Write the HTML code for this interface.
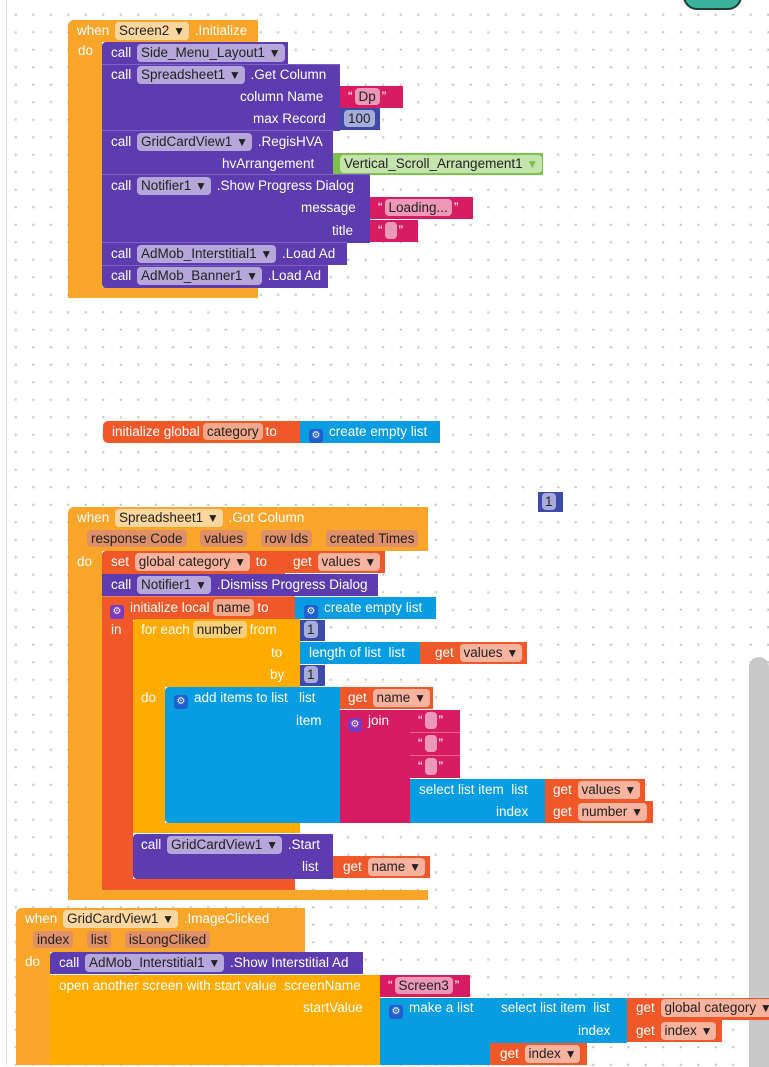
<!DOCTYPE html>
<html><head><meta charset="utf-8">
<style>
html,body{margin:0;padding:0}
body{width:769px;height:1065px;position:relative;overflow:hidden;background-color:#fff;
background-image:radial-gradient(circle,#c9c9c9 1px,transparent 1.4px);background-size:17.5px 17.5px;background-position:7px 6px;
font-family:"Liberation Sans","DejaVu Sans",sans-serif;}
.r{position:absolute}
.x{position:absolute;white-space:nowrap;color:#fff;font-size:13.5px;line-height:22px}
.f{display:inline-block;background:rgba(255,255,255,.55);color:#222;border-radius:4px;padding:0 4px;line-height:17px;margin:0 2px}
.q{display:inline-block;background:#df9068;color:#222;border-radius:4px;padding:0 4px;line-height:17px;margin:0 3px}
.g{display:inline-block;width:14px;height:14px;border-radius:3px;vertical-align:-2px;margin-right:6px;text-align:center;line-height:14px;font-size:10px;color:#fff}
.E{background:#f9a52a}.P{background:#5c3cae}.V{background:#f0582a}.T{background:#d81c62}.N{background:#3d4aa8}.L{background:#089ce0}.A{background:#ffab00}.G{background:#7cc24a}
.dw{font-size:12px}
</style></head><body>
<div class="r" style="left:6px;top:0;width:1px;height:1065px;background:#ddd"></div>
<div class="r" style="left:683px;top:-14px;width:55px;height:20px;background:#3bb39a;border:2px solid #1d3d36;border-radius:0 0 14px 14px"></div>
<div class="r" style="left:749px;top:657px;width:20px;height:410px;background:#c8c8c8;border-radius:10px 10px 0 0"></div>

<!-- Block 1 -->
<div class="r E" style="left:68px;top:20px;width:190px;height:22px;border-radius:6px 0 0 0"></div>
<div class="r E" style="left:68px;top:42px;width:34px;height:256px;border-radius:0 0 0 6px"></div>
<div class="r E" style="left:68px;top:287px;width:190px;height:11px"></div>
<div class="x" style="left:77px;top:20px">when <span class="f">Screen2 <span class="dw">▼</span></span> .Initialize</div>
<div class="x" style="left:78px;top:40px">do</div>
<div class="r P" style="left:102px;top:42px;width:186px;height:22px;border-radius:4px 0 0 0"></div>
<div class="x" style="left:111px;top:42px">call <span class="f">Side_Menu_Layout1 <span class="dw">▼</span></span></div>
<div class="r P" style="left:102px;top:64px;width:238px;height:66px;border-top:1px solid #7d62c6"></div>
<div class="x" style="left:111px;top:64px">call <span class="f">Spreadsheet1 <span class="dw">▼</span></span> .Get Column</div>
<div class="x" style="left:240px;top:86px">column Name</div>
<div class="x" style="left:253px;top:108px">max Record</div>
<div class="r T" style="left:340px;top:86px;width:63px;height:22px"></div>
<div class="x" style="left:348px;top:86px">“<span class="f">Dp</span>”</div>
<div class="r N" style="left:340px;top:108px;width:40px;height:22px"></div>
<div class="x" style="left:344px;top:108px"><span class="f" style="margin:0">100</span></div>
<div class="r P" style="left:102px;top:130px;width:231px;height:44px;border-top:1px solid #7d62c6"></div>
<div class="x" style="left:111px;top:131px">call <span class="f">GridCardView1 <span class="dw">▼</span></span> .RegisHVA</div>
<div class="x" style="left:222px;top:153px">hvArrangement</div>
<div class="r G" style="left:333px;top:153px;width:210px;height:22px"></div>
<div class="x" style="left:338px;top:153px"><span class="f" style="color:#222">Vertical_Scroll_Arrangement1 <span class="dw" style="color:#7cc24a">▼</span></span></div>
<div class="r P" style="left:102px;top:174px;width:268px;height:68px;border-top:1px solid #7d62c6"></div>
<div class="x" style="left:111px;top:175px">call <span class="f">Notifier1 <span class="dw">▼</span></span> .Show Progress Dialog</div>
<div class="x" style="left:301px;top:197px">message</div>
<div class="x" style="left:332px;top:220px">title</div>
<div class="r T" style="left:370px;top:197px;width:103px;height:22px"></div>
<div class="x" style="left:378px;top:197px">“<span class="f">Loading...</span>”</div>
<div class="r T" style="left:370px;top:220px;width:48px;height:22px"></div>
<div class="x" style="left:378px;top:220px">“<span class="f" style="width:4px">&nbsp;</span>”</div>
<div class="r P" style="left:102px;top:242px;width:245px;height:22px;border-top:1px solid #7d62c6"></div>
<div class="x" style="left:111px;top:243px">call <span class="f">AdMob_Interstitial1 <span class="dw">▼</span></span> .Load Ad</div>
<div class="r P" style="left:102px;top:265px;width:226px;height:22px;border-top:1px solid #7d62c6;border-radius:0 0 0 4px"></div>
<div class="x" style="left:111px;top:265px">call <span class="f">AdMob_Banner1 <span class="dw">▼</span></span> .Load Ad</div>

<!-- Block 2 -->
<div class="r V" style="left:103px;top:421px;width:197px;height:22px;border-radius:5px 0 0 5px"></div>
<div class="x" style="left:112px;top:421px">initialize global<span class="q" style="background:#f3a88c">category</span>to</div>
<div class="r L" style="left:300px;top:421px;width:140px;height:22px"></div>
<div class="x" style="left:309px;top:421px"><span class="g" style="background:#1f5fd0">⚙</span>create empty list</div>
<div class="r N" style="left:538px;top:492px;width:25px;height:20px"></div>
<div class="x" style="left:542px;top:491px"><span class="f" style="margin:0;padding:0 3px">1</span></div>

<!-- Block 3 -->
<div class="r E" style="left:68px;top:507px;width:360px;height:44px;border-radius:6px 0 0 0"></div>
<div class="r E" style="left:68px;top:551px;width:34px;height:349px;border-radius:0 0 0 6px"></div>
<div class="r E" style="left:68px;top:890px;width:360px;height:10px"></div>
<div class="x" style="left:77px;top:507px">when <span class="f">Spreadsheet1 <span class="dw">▼</span></span> .Got Column</div>
<div class="x" style="left:84px;top:528px"><span class="q">response Code</span>&nbsp; <span class="q">values</span>&nbsp; <span class="q">row Ids</span>&nbsp; <span class="q">created Times</span></div>
<div class="x" style="left:77px;top:551px">do</div>
<div class="r V" style="left:102px;top:551px;width:183px;height:23px;border-radius:4px 0 0 0"></div>
<div class="x" style="left:111px;top:551px">set <span class="f">global category <span class="dw">▼</span></span> to</div>
<div class="r V" style="left:285px;top:551px;width:100px;height:22px"></div>
<div class="x" style="left:293px;top:551px">get <span class="f">values <span class="dw">▼</span></span></div>
<div class="r P" style="left:102px;top:574px;width:276px;height:22px"></div>
<div class="x" style="left:111px;top:574px">call <span class="f">Notifier1 <span class="dw">▼</span></span> .Dismiss Progress Dialog</div>
<div class="r V" style="left:102px;top:596px;width:193px;height:23px;border-top:1px solid #f4825f"></div>
<div class="r V" style="left:102px;top:619px;width:31px;height:271px;border-radius:0 0 0 5px"></div>
<div class="r V" style="left:102px;top:879px;width:193px;height:11px"></div>
<div class="x" style="left:110px;top:597px"><span class="g" style="background:#7b3ac0">⚙</span>initialize local<span class="q" style="background:#f3a88c">name</span>to</div>
<div class="x" style="left:111px;top:619px">in</div>
<div class="r L" style="left:295px;top:597px;width:141px;height:22px"></div>
<div class="x" style="left:304px;top:597px"><span class="g" style="background:#1f5fd0">⚙</span>create empty list</div>
<div class="r A" style="left:133px;top:619px;width:167px;height:68px;border-radius:4px 0 0 0"></div>
<div class="r A" style="left:133px;top:687px;width:32px;height:146px;border-radius:0 0 0 4px"></div>
<div class="r A" style="left:133px;top:823px;width:167px;height:10px"></div>
<div class="x" style="left:141px;top:619px">for each<span class="q" style="background:#f7cf7a">number</span>from</div>
<div class="x" style="left:271px;top:642px">to</div>
<div class="x" style="left:270px;top:664px">by</div>
<div class="x" style="left:141px;top:687px">do</div>
<div class="r N" style="left:300px;top:620px;width:25px;height:21px"></div>
<div class="x" style="left:304px;top:619px"><span class="f" style="margin:0;padding:0 3px">1</span></div>
<div class="r L" style="left:300px;top:642px;width:120px;height:22px"></div>
<div class="x" style="left:309px;top:642px">length of list &nbsp;list</div>
<div class="r V" style="left:420px;top:642px;width:107px;height:22px"></div>
<div class="x" style="left:435px;top:642px">get <span class="f">values <span class="dw">▼</span></span></div>
<div class="r N" style="left:300px;top:665px;width:25px;height:21px"></div>
<div class="x" style="left:304px;top:664px"><span class="f" style="margin:0;padding:0 3px">1</span></div>
<div class="r L" style="left:165px;top:687px;width:175px;height:136px;border-radius:4px 0 0 4px"></div>
<div class="x" style="left:174px;top:687px"><span class="g" style="background:#1f5fd0">⚙</span>add items to list &nbsp; list</div>
<div class="x" style="left:296px;top:710px">item</div>
<div class="r V" style="left:340px;top:687px;width:93px;height:22px"></div>
<div class="x" style="left:348px;top:687px">get <span class="f">name <span class="dw">▼</span></span></div>
<div class="r T" style="left:340px;top:710px;width:70px;height:113px"></div>
<div class="x" style="left:348px;top:710px"><span class="g" style="background:#7b3ac0">⚙</span>join</div>
<div class="r T" style="left:410px;top:710px;width:50px;height:22px;border-bottom:1px solid #e9648f"></div>
<div class="r T" style="left:410px;top:733px;width:50px;height:22px;border-bottom:1px solid #e9648f"></div>
<div class="r T" style="left:410px;top:756px;width:50px;height:22px"></div>
<div class="x" style="left:418px;top:710px">“<span class="f" style="width:4px">&nbsp;</span>”</div>
<div class="x" style="left:418px;top:733px">“<span class="f" style="width:4px">&nbsp;</span>”</div>
<div class="x" style="left:418px;top:756px">“<span class="f" style="width:4px">&nbsp;</span>”</div>
<div class="r L" style="left:410px;top:779px;width:135px;height:44px"></div>
<div class="x" style="left:419px;top:779px">select list item &nbsp;list</div>
<div class="x" style="left:496px;top:801px">index</div>
<div class="r V" style="left:545px;top:779px;width:100px;height:22px"></div>
<div class="x" style="left:553px;top:779px">get <span class="f">values <span class="dw">▼</span></span></div>
<div class="r V" style="left:545px;top:801px;width:108px;height:22px"></div>
<div class="x" style="left:553px;top:801px">get <span class="f">number <span class="dw">▼</span></span></div>
<div class="r P" style="left:133px;top:834px;width:200px;height:45px;border-radius:4px 0 0 4px"></div>
<div class="x" style="left:141px;top:834px">call <span class="f">GridCardView1 <span class="dw">▼</span></span> .Start</div>
<div class="x" style="left:302px;top:856px">list</div>
<div class="r V" style="left:333px;top:856px;width:97px;height:22px"></div>
<div class="x" style="left:343px;top:856px">get <span class="f">name <span class="dw">▼</span></span></div>

<!-- Block 4 -->
<div class="r E" style="left:16px;top:908px;width:289px;height:44px;border-radius:6px 0 0 0"></div>
<div class="r E" style="left:16px;top:952px;width:34px;height:113px"></div>
<div class="x" style="left:25px;top:908px">when <span class="f">GridCardView1 <span class="dw">▼</span></span> .ImageClicked</div>
<div class="x" style="left:30px;top:929px"><span class="q">index</span>&nbsp; <span class="q">list</span>&nbsp; <span class="q">isLongCliked</span></div>
<div class="x" style="left:25px;top:951px">do</div>
<div class="r P" style="left:50px;top:952px;width:313px;height:22px;border-radius:4px 0 0 0"></div>
<div class="x" style="left:59px;top:952px">call <span class="f">AdMob_Interstitial1 <span class="dw">▼</span></span> .Show Interstitial Ad</div>
<div class="r A" style="left:50px;top:975px;width:330px;height:90px"></div>
<div class="x" style="left:59px;top:975px">open another screen with start value &nbsp;screenName</div>
<div class="x" style="left:303px;top:997px">startValue</div>
<div class="r T" style="left:380px;top:975px;width:90px;height:22px"></div>
<div class="x" style="left:388px;top:975px">“<span class="f">Screen3</span>”</div>
<div class="r L" style="left:380px;top:998px;width:110px;height:67px"></div>
<div class="x" style="left:389px;top:997px"><span class="g" style="background:#1f5fd0">⚙</span>make a list</div>
<div class="r L" style="left:490px;top:998px;width:137px;height:45px"></div>
<div class="x" style="left:501px;top:997px">select list item &nbsp;list</div>
<div class="x" style="left:578px;top:1020px">index</div>
<div class="r V" style="left:627px;top:998px;width:142px;height:22px"></div>
<div class="x" style="left:636px;top:997px">get <span class="f">global category <span class="dw">▼</span></span></div>
<div class="r V" style="left:627px;top:1020px;width:95px;height:22px"></div>
<div class="x" style="left:636px;top:1020px">get <span class="f">index <span class="dw">▼</span></span></div>
<div class="r V" style="left:490px;top:1043px;width:97px;height:22px"></div>
<div class="x" style="left:500px;top:1043px">get <span class="f">index <span class="dw">▼</span></span></div>
</body></html>
